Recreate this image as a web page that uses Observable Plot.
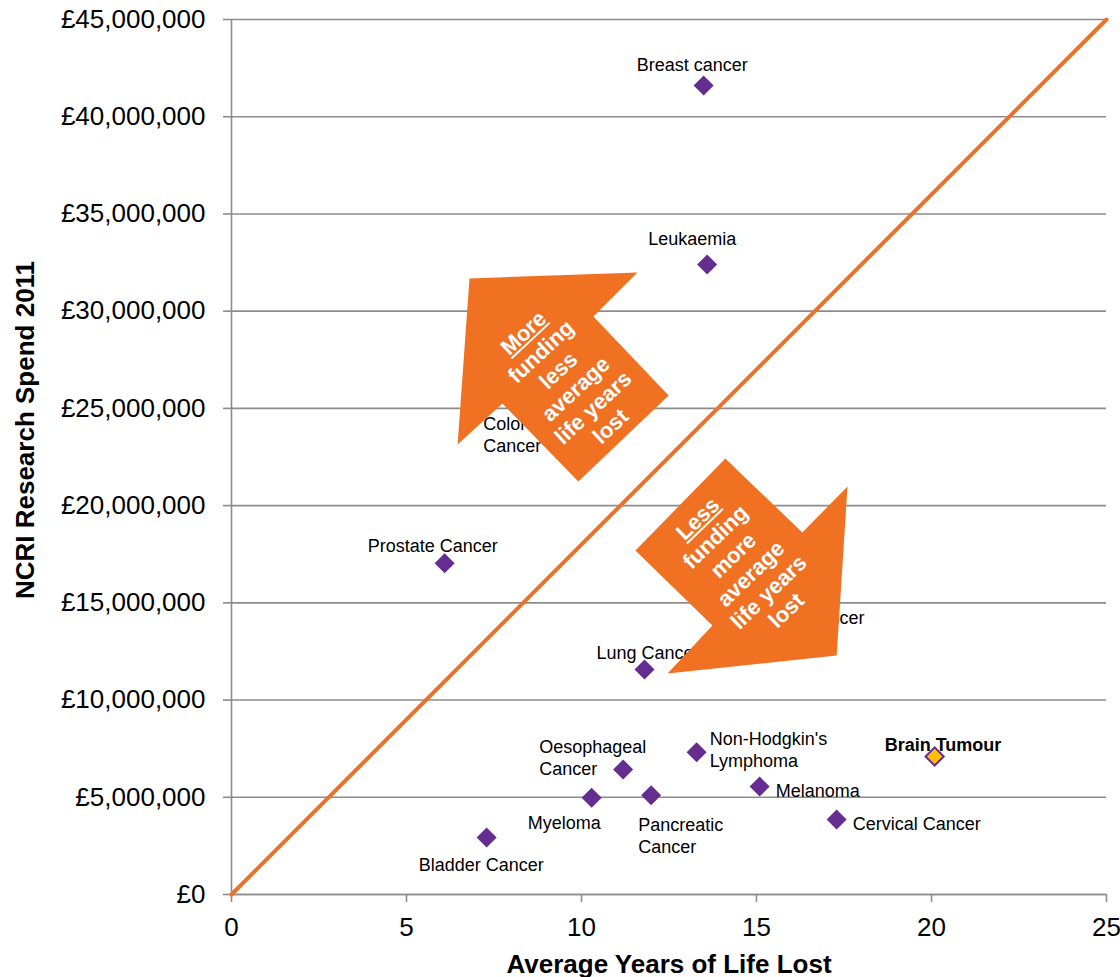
<!DOCTYPE html>
<html>
<head>
<meta charset="utf-8">
<script src="https://cdn.jsdelivr.net/npm/d3@7"></script>
<script src="https://cdn.jsdelivr.net/npm/@observablehq/plot@0.6"></script>
<style>
  html, body { margin: 0; padding: 0; background: #fff; }
  #chart svg { display: block; }
</style>
</head>
<body>
<div id="chart"></div>
<script>
// ---- Data ----
const cancers = ["Breast cancer", "Leukaemia", "Colorectal Cancer", "Prostate Cancer", "Ovarian Cancer",
  "Lung Cancer", "Non-Hodgkin's Lymphoma", "Oesophageal Cancer", "Melanoma", "Brain Tumour",
  "Myeloma", "Pancreatic Cancer", "Cervical Cancer", "Bladder Cancer"];
const yearsLost = [13.49, 13.59, 6.85, 6.09, 14.03, 11.80, 13.29, 11.19, 15.09, 20.09, 10.29, 11.99, 17.29, 7.29];
const spend = [41.61e6, 32.40e6, 24.5e6, 17.04e6, 14.45e6, 11.57e6, 7.32e6, 6.43e6, 5.55e6, 7.10e6, 4.97e6, 5.11e6, 3.86e6, 2.93e6];
const labelText = ["Breast cancer", "Leukaemia", "Colorectal\nCancer", "Prostate Cancer", "Ovarian Cancer",
  "Lung Cancer", "Non-Hodgkin's\nLymphoma", "Oesophageal\nCancer", "Melanoma", "Brain Tumour",
  "Myeloma", "Pancreatic\nCancer", "Cervical Cancer", "Bladder Cancer"];
const highlighted = "Brain Tumour";

// label placement (offset of label start / first baseline from its marker, px)
const labelDx = [-67, -59, 12, -77, 16, -48, 13, -84, 16, -50, -64, -13, 16, -68];
const labelBaseline = [-17, -22, 9, -14, 8, -13, -10, -19, 8, -8, 28, 33, 8, 31];

// axis ticks
const xTicks = [0, 5, 10, 15, 20, 25];
const yTicks = [0, 5e6, 10e6, 15e6, 20e6, 25e6, 30e6, 35e6, 40e6, 45e6];

// parity line (equal spend per year of life lost)
const parityX = [0, 25];
const parityY = [0, 45e6];

// annotation arrows (in data units)
const arrowUpX = [6.80, 11.60, 10.34, 12.49, 9.91, 7.74, 6.46];
const arrowUpY = [31.68e6, 31.99e6, 29.73e6, 25.66e6, 21.24e6, 25.25e6, 23.14e6];
const arrowDownX = [14.11, 16.31, 17.60, 17.29, 12.46, 13.74, 11.54];
const arrowDownY = [22.42e6, 18.62e6, 20.98e6, 12.29e6, 11.37e6, 13.83e6, 17.69e6];
const arrowUpText = ["More", "funding", "less", "average", "life years", "lost"];
const arrowDownText = ["Less", "funding", "more", "average", "life years", "lost"];
const arrowUpTextPos = [9.57, 26.51e6];
const arrowDownTextPos = [14.57, 17.0e6];

// ---- Build tables ----
const points = cancers.map((c, i) => ({
  name: c, x: yearsLost[i], y: spend[i], label: labelText[i],
  dx: labelDx[i], base: labelBaseline[i]
}));
const parity = parityX.map((x, i) => ({x, y: parityY[i]}));
const arrowUp = arrowUpX.map((x, i) => ({x, y: arrowUpY[i]}));
const arrowDown = arrowDownX.map((x, i) => ({x, y: arrowDownY[i]}));

const PURPLE = "#662d91";
const ORANGE = "#f07122";
const GRID = "#8c8c8c";
const LABEL_FS = 18;

const fmtGBP = d => "£" + d3.format(",")(d);

const labelMarks = points.map(p => Plot.text([p], {
  x: "x", y: "y", text: "label",
  textAnchor: "start", lineAnchor: "top",
  dx: p.dx, dy: p.base - 0.71 * LABEL_FS,
  fontSize: LABEL_FS, lineHeight: 1.22,
  fontWeight: p.name === highlighted ? "bold" : "normal",
  fill: "#000"
}));

const chart = Plot.plot({
  width: 1120,
  height: 977,
  marginLeft: 231,
  marginRight: 14,
  marginTop: 19,
  marginBottom: 83,
  style: {
    fontFamily: "'Liberation Sans', Arial, Helvetica, sans-serif",
    fontSize: "26px",
    color: "#000",
    background: "#fff",
    overflow: "visible"
  },
  x: {domain: [0, 25]},
  y: {domain: [0, 45e6]},
  marks: [
    Plot.gridY({ticks: yTicks, stroke: GRID, strokeOpacity: 1, strokeWidth: 1.6}),
    Plot.ruleX([0], {stroke: GRID, strokeWidth: 1.6}),
    Plot.ruleY([0], {stroke: GRID, strokeWidth: 1.6}),
    Plot.axisY({ticks: yTicks, tickFormat: fmtGBP, tickSize: 8, tickPadding: 18,
      stroke: GRID, strokeWidth: 1.6, fill: "#000", label: null, fontSize: 26}),
    Plot.axisX({ticks: xTicks, tickFormat: d => String(d), tickSize: 8, tickPadding: 15,
      stroke: GRID, strokeWidth: 1.6, fill: "#000", label: null, fontSize: 26}),
    Plot.line(parity, {x: "x", y: "y", stroke: ORANGE, strokeWidth: 4}),
    Plot.dot(points.filter(p => p.name !== highlighted), {
      x: "x", y: "y", symbol: "diamond2", r: 9, fill: PURPLE, stroke: "none"
    }),
    Plot.dot(points.filter(p => p.name === highlighted), {
      x: "x", y: "y", symbol: "diamond2", r: 8.2, fill: "#ffc000", stroke: PURPLE, strokeWidth: 2
    }),
    ...labelMarks,
    Plot.line(arrowUp, {x: "x", y: "y", fill: ORANGE, stroke: "none", curve: "linear-closed"}),
    Plot.line(arrowDown, {x: "x", y: "y", fill: ORANGE, stroke: "none", curve: "linear-closed"}),
    Plot.text([{x: arrowUpTextPos[0], y: arrowUpTextPos[1], t: arrowUpText.join("\n")}], {
      x: "x", y: "y", text: "t", rotate: -43, fill: "#fff", fontWeight: "bold",
      fontSize: 22, lineHeight: 1.16, textAnchor: "middle", lineAnchor: "middle"
    }),
    Plot.text([{x: arrowDownTextPos[0], y: arrowDownTextPos[1], t: arrowDownText.join("\n")}], {
      x: "x", y: "y", text: "t", rotate: -44, fill: "#fff", fontWeight: "bold",
      fontSize: 22, lineHeight: 1.16, textAnchor: "middle", lineAnchor: "middle"
    }),
    Plot.text(["NCRI Research Spend 2011"], {
      frameAnchor: "left", dx: -206, dy: -27, rotate: -90, fontWeight: "bold",
      fontSize: 26, textAnchor: "middle", lineAnchor: "middle", fill: "#000"
    }),
    Plot.text(["Average Years of Life Lost"], {
      frameAnchor: "bottom", dx: 0, dy: 70, fontWeight: "bold",
      fontSize: 26, textAnchor: "middle", lineAnchor: "middle", fill: "#000"
    })
  ]
});

document.getElementById("chart").appendChild(chart);

// underline the first word ("More"/"Less") of each arrow annotation
const firstWords = [arrowUpText[0], arrowDownText[0]];
const SVGNS = "http://www.w3.org/2000/svg";
chart.querySelectorAll("text").forEach(textEl => {
  const tspans = textEl.querySelectorAll("tspan");
  let target = null;
  if (tspans.length > 1 && firstWords.includes(tspans[0].textContent)) target = tspans[0];
  else if (tspans.length === 0 && firstWords.includes(textEl.textContent)) target = textEl;
  if (!target) return;
  const n = target.getNumberOfChars();
  if (!n) return;
  const s = target.getStartPositionOfChar(0);
  const e = target.getEndPositionOfChar(n - 1);
  const line = document.createElementNS(SVGNS, "line");
  const off = 3;
  line.setAttribute("x1", s.x);
  line.setAttribute("y1", s.y + off);
  line.setAttribute("x2", e.x);
  line.setAttribute("y2", e.y + off);
  line.setAttribute("stroke", "#fff");
  line.setAttribute("stroke-width", "2");
  const tr = textEl.getAttribute("transform");
  if (tr) line.setAttribute("transform", tr);
  textEl.parentNode.appendChild(line);
});
</script>
</body>
</html>
